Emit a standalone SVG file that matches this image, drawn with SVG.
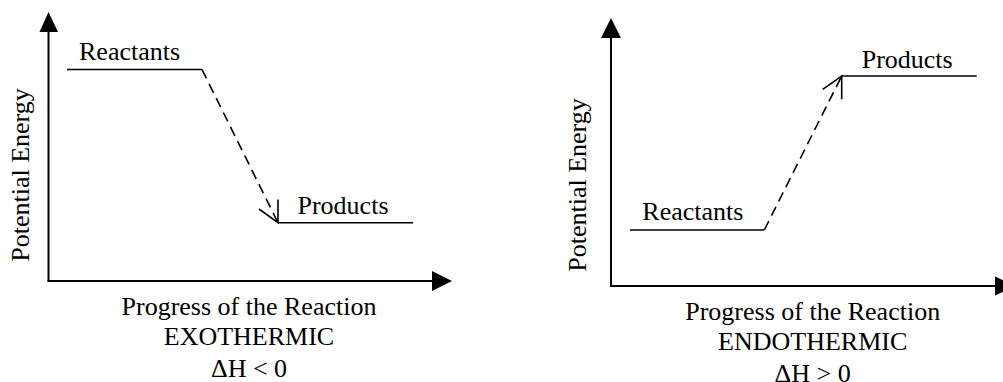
<svg xmlns="http://www.w3.org/2000/svg" width="1003" height="382" viewBox="0 0 1003 382">
<defs>
<style>
text{font-family:"Liberation Serif","Times New Roman",serif;font-size:26px;fill:#000}
.axis{stroke:#000;stroke-width:2;fill:none}
.level{stroke:#000;stroke-width:1.6;fill:none}
.path{stroke:#000;stroke-width:1.6;fill:none;stroke-dasharray:10 6}
.head{stroke:#000;stroke-width:1.6;fill:none}
.ah{fill:#000}
</style>
</defs>
<rect width="1003" height="382" fill="#fff"/>
<g id="exothermic">
<g id="exo-axes">
<line class="axis" x1="48.5" y1="30" x2="48.5" y2="281"/>
<line class="axis" x1="47.5" y1="281" x2="434" y2="281"/>
<polygon class="ah" points="48.5,12 39.5,32 58,32"/>
<polygon class="ah" points="452,281 432,271 432,291"/>
</g>
<g id="exo-reactants">
<line class="level" x1="67" y1="69.5" x2="202" y2="69.5"/>
<text x="79" y="60">Reactants</text>
</g>
<g id="exo-products">
<line class="level" x1="278" y1="222.7" x2="413" y2="222.7"/>
<text x="297.5" y="214">Products</text>
</g>
<g id="exo-connector">
<line class="path" x1="202" y1="69.5" x2="278" y2="222.7"/>
<polyline class="head" points="278,199.5 278,222.7 259,209"/>
</g>
<g id="exo-labels">
<text transform="translate(29.3,175) rotate(-90)" text-anchor="middle">Potential Energy</text>
<text x="249" y="315" text-anchor="middle">Progress of the Reaction</text>
<text x="249" y="345" text-anchor="middle">EXOTHERMIC</text>
<text x="249" y="377" text-anchor="middle">ΔH &lt; 0</text>
</g>
</g>
<g id="endothermic">
<g id="endo-axes">
<line class="axis" x1="611" y1="36" x2="611" y2="286"/>
<line class="axis" x1="610" y1="286" x2="997" y2="286"/>
<polygon class="ah" points="611,18 601,38 621,38"/>
<polygon class="ah" points="1015,286 995,276.5 995,295.5"/>
</g>
<g id="endo-reactants">
<line class="level" x1="630" y1="230" x2="764.3" y2="230"/>
<text x="642.3" y="220">Reactants</text>
</g>
<g id="endo-products">
<line class="level" x1="841.7" y1="76" x2="976.7" y2="76"/>
<text x="861.7" y="68.3">Products</text>
</g>
<g id="endo-connector">
<line class="path" x1="764.3" y1="230" x2="841.7" y2="76"/>
<polyline class="head" points="822.7,89.3 841.7,76 841.7,99.3"/>
</g>
<g id="endo-labels">
<text transform="translate(586,185) rotate(-90)" text-anchor="middle">Potential Energy</text>
<text x="812.7" y="320" text-anchor="middle">Progress of the Reaction</text>
<text x="812.7" y="350" text-anchor="middle">ENDOTHERMIC</text>
<text x="812.7" y="381.5" text-anchor="middle">ΔH &gt; 0</text>
</g>
</g>
</svg>
